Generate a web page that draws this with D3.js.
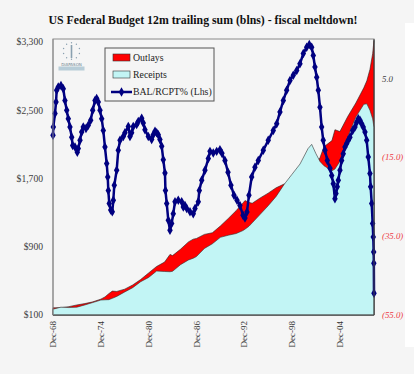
<!DOCTYPE html>
<html><head><meta charset="utf-8">
<script src="https://cdn.jsdelivr.net/npm/d3@7"></script>
<style>
html,body{margin:0;padding:0;background:#f5f5f5;}
svg{display:block;font-family:"Liberation Serif","Times New Roman",serif;}
</style></head>
<body>
<svg id="c" width="414" height="374"></svg>
<script>
// ---- data ----
const title = "US Federal Budget 12m trailing sum (blns) - fiscal meltdown!";
const seriesNames = ["Outlays", "Receipts", "BAL/RCPT% (Lhs)"];
const xTickDates = [1968.92, 1974.92, 1980.92, 1986.92, 1992.92, 1998.92, 2004.92];
const xTickLabels = ["Dec-68", "Dec-74", "Dec-80", "Dec-86", "Dec-92", "Dec-98", "Dec-04"];
const leftTicks = [100, 900, 1700, 2500, 3300];
const rightTicks = [5, -15, -35, -55];

const areaDates = [1968.92,1969.92,1970.92,1971.92,1972.92,1973.92,1974.92,1975.44,1975.92,1976.36,
  1976.92,1977.92,1978.92,1979.92,1980.92,1981.92,1982.92,1983.6,1983.92,1984.92,
  1985.92,1986.52,1986.92,1987.92,1988.92,1989.92,1990.92,1991.92,1992.76,1993.01,
  1993.51,1993.92,1994.92,1995.92,1996.92,1997.92,1998.92,1999.92,2000.92,2001.38,
  2001.92,2002.42,2002.92,2003.92,2004.3,2004.92,2005.92,2006.92,2007.92,2008.3,
  2008.69,2009.03,2009.2];
const receipts = [168,192,187,192,218,246,275,278,280,295,
  318,370,420,490,540,615,610,607,612,690,
  745,765,785,880,935,1010,1035,1055,1090,1105,
  1140,1180,1280,1380,1490,1630,1750,1870,2050,2100,
  1990,1900,1850,1790,1810,1900,2190,2420,2570,2575,
  2500,2400,2300];
const outlays = [184,186,198,218,234,254,286,312,350,380,
  376,403,452,516,593,669,720,810,796,871,
  957,989,997,1045,1064,1143,1232,1325,1414,1441,
  1420,1410,1472,1528,1591,1635,1652,1707,1775,1829,
  1861,1944,2072,2144,2272,2250,2429,2585,2763,2845,
  2978,3163,3320];

const lineDates = [1968.92,1968.96,1969.17,1969.30,1969.38,1969.58,1969.92,1970.21,1970.42,1970.64,
  1970.84,1971.05,1971.27,1971.39,1971.68,1971.97,1972.09,1972.31,1972.52,1972.72,
  1973.06,1973.35,1973.65,1973.90,1974.19,1974.40,1974.60,1974.82,1975.03,1975.23,
  1975.44,1975.66,1975.79,1975.86,1975.98,1976.16,1976.36,1976.49,1976.61,1976.91,
  1977.11,1977.33,1977.74,1977.95,1978.37,1978.58,1978.79,1978.99,1979.42,1979.62,
  1980.05,1980.25,1980.46,1980.88,1981.30,1981.50,1981.72,1981.93,1982.13,1982.34,
  1982.56,1982.76,1982.97,1983.03,1983.19,1983.39,1983.60,1983.81,1984.01,1984.23,
  1984.64,1985.07,1985.27,1985.48,1985.70,1986.11,1986.52,1986.74,1987.15,1987.28,
  1987.58,1987.99,1988.41,1988.62,1989.03,1989.46,1989.87,1990.12,1990.50,1990.88,
  1991.25,1991.63,1992.01,1992.38,1992.76,1993.01,1993.26,1993.51,1993.85,1994.26,
  1994.68,1995.31,1995.93,1996.56,1996.99,1997.40,1997.82,1998.24,1998.66,1999.07,
  1999.50,1999.91,2000.33,2000.75,2001.08,2001.38,2001.58,2001.79,2002.01,2002.21,
  2002.42,2002.63,2002.83,2003.05,2003.34,2003.68,2003.89,2004.09,2004.30,2004.43,
  2004.59,2004.72,2004.93,2005.14,2005.34,2005.56,2005.77,2005.97,2006.18,2006.52,
  2006.81,2007.03,2007.23,2007.44,2007.65,2007.85,2008.07,2008.28,2008.48,2008.69,
  2008.78,2008.91,2009.03,2009.11,2009.16,2009.18,2009.20];
const balRcpt = [-9.4,-7.3,-3.9,-1.0,2.0,2.8,3.2,2.4,-0.6,-3.1,
  -5.2,-7.3,-9.9,-12.0,-12.4,-13.7,-12.8,-10.7,-8.6,-7.3,
  -7.7,-6.9,-5.6,-3.1,-0.6,-0.1,-1.0,-3.1,-5.2,-8.2,
  -12.4,-16.6,-20.0,-23.4,-26.7,-28.4,-28.8,-25.9,-22.1,-18.3,
  -13.2,-10.7,-9.7,-8.8,-7.2,-9.7,-8.8,-7.2,-6.7,-5.9,
  -5.1,-6.3,-8.0,-9.7,-10.5,-9.3,-8.4,-8.8,-9.3,-10.5,
  -12.2,-15.6,-19.0,-23.4,-26.7,-31.0,-33.5,-31.8,-29.3,-26.3,
  -25.9,-26.3,-27.6,-27.2,-28.0,-28.8,-29.3,-28.0,-26.3,-23.4,
  -20.8,-18.3,-15.3,-13.5,-13.9,-13.5,-13.1,-14.0,-15.8,-18.8,
  -22.1,-24.6,-25.9,-27.2,-29.7,-30.4,-28.9,-24.6,-20.0,-17.5,
  -15.8,-13.2,-10.7,-8.2,-6.5,-3.5,-0.6,2.0,4.5,5.8,
  7.0,8.7,11.3,12.9,13.6,12.9,10.8,7.9,5.3,2.0,
  -2.3,-7.3,-10.7,-13.2,-15.8,-17.8,-19.6,-21.7,-25.5,-24.2,
  -22.5,-20.8,-18.3,-15.8,-14.1,-12.4,-11.5,-10.7,-9.9,-8.2,
  -7.3,-6.1,-5.2,-5.6,-6.5,-7.3,-8.6,-10.7,-14.9,-19.1,
  -22.5,-26.7,-31.8,-35.2,-39.0,-41.9,-49.5];

// ---- layout ----
const svg = d3.select("#c");
const L = 53, R = 374, T = 39, B = 315;
const x = d3.scaleLinear().domain([1968.92, 2009.2]).range([L, R]);
const yL = d3.scaleLinear().domain([100, 3335]).range([B, T]);
const yR = d3.scaleLinear().domain([-55, 15]).range([B, T]);

svg.append("rect").attr("width",414).attr("height",374).attr("fill","#f5f5f5");
svg.append("rect").attr("x",405).attr("y",23).attr("width",9).attr("height",324).attr("fill","#ffffff");

// title
svg.append("text").attr("x",203).attr("y",24).attr("text-anchor","middle")
  .attr("font-weight","bold").attr("font-size","11.8px").attr("fill","#111").text(title);

// plot background
svg.append("rect").attr("x",L).attr("y",T).attr("width",R-L).attr("height",B-T)
  .attr("fill","#f5f5f5").attr("stroke","#8c8c8c").attr("stroke-width",1);

const areaData = areaDates.map((d,i)=>({d, r:receipts[i], o:outlays[i]}));
const areaO = d3.area().x(p=>x(p.d)).y0(yL(100)).y1(p=>yL(p.o));
const areaR = d3.area().x(p=>x(p.d)).y0(yL(100)).y1(p=>yL(p.r));
svg.append("path").datum(areaData).attr("d",areaO).attr("fill","#ff0000")
  .attr("stroke","#222").attr("stroke-width",0.6);
svg.append("path").datum(areaData).attr("d",areaR).attr("fill","#c2f5f5")
  .attr("stroke","#333").attr("stroke-width",0.6);

// line
const lineData = lineDates.map((d,i)=>({d, v:balRcpt[i]}));
svg.append("path").datum(lineData)
  .attr("d", d3.line().x(p=>x(p.d)).y(p=>yR(p.v)))
  .attr("fill","none").attr("stroke","#000080").attr("stroke-width",2.5);
const diamond = d3.symbol().type(d3.symbolDiamond).size(26);
svg.append("g").selectAll("path").data(lineData).join("path")
  .attr("transform",p=>`translate(${x(p.d)},${yR(p.v)})`)
  .attr("d",diamond).attr("fill","#000080");

// axes lines
svg.append("line").attr("x1",L).attr("x2",R).attr("y1",B).attr("y2",B).attr("stroke","#555");
svg.append("line").attr("x1",L).attr("x2",L).attr("y1",T).attr("y2",B).attr("stroke","#8c8c8c");
svg.append("line").attr("x1",R).attr("x2",R).attr("y1",T).attr("y2",B).attr("stroke","#444");

// left axis labels
svg.append("g").selectAll("text").data(leftTicks).join("text")
  .attr("x",43).attr("y",v=>yL(v)).attr("dy","0.35em").attr("text-anchor","end")
  .attr("font-size","9.6px").attr("fill","#404040")
  .text(v=>"$"+d3.format(",")(v));

// right axis labels
const fmtR = v => v < 0 ? "(" + Math.abs(v).toFixed(1) + ")" : v.toFixed(1);
svg.append("g").selectAll("text").data(rightTicks).join("text")
  .attr("x",382).attr("y",v=>yR(v)).attr("dy","0.35em")
  .attr("font-size","8.8px").attr("font-style","italic")
  .attr("fill",v=>v<0?"#ee3a44":"#404040")
  .text(fmtR);

// x labels
svg.append("g").selectAll("text").data(xTickDates).join("text")
  .attr("transform",d=>`translate(${x(d)},321) rotate(-90)`)
  .attr("dy","0.35em").attr("text-anchor","end")
  .attr("font-size","9px").attr("fill","#333")
  .text((d,i)=>xTickLabels[i]);

// logo
const lg = svg.append("g").attr("transform","translate(71.5,51)");
d3.range(10).forEach(i=>{
  const a = i/10*2*Math.PI;
  lg.append("circle").attr("cx",8.3*Math.sin(a)).attr("cy",-8.3*Math.cos(a)).attr("r",0.7).attr("fill","#8aa0b0");
});
lg.append("line").attr("x1",0).attr("x2",0).attr("y1",-6).attr("y2",7).attr("stroke","#8aa0b0").attr("stroke-width",1.6);
lg.append("text").attr("x",0).attr("y",14.5).attr("text-anchor","middle").attr("font-size","4px")
  .attr("fill","#6a8090").attr("font-family","DejaVu Sans").text("DIAPASON");
lg.append("rect").attr("x",-13).attr("y",15.5).attr("width",26).attr("height",4).attr("fill","#b8cdd8");

// legend
const lgd = svg.append("g");
lgd.append("rect").attr("x",105).attr("y",48).attr("width",109).attr("height",53)
  .attr("fill","#f5f5f5").attr("stroke","#555").attr("stroke-width",1);
lgd.append("rect").attr("x",113).attr("y",54).attr("width",17).attr("height",7)
  .attr("fill","#ff0000").attr("stroke","#333").attr("stroke-width",0.6);
lgd.append("rect").attr("x",113).attr("y",71).attr("width",17).attr("height",7)
  .attr("fill","#c2f5f5").attr("stroke","#333").attr("stroke-width",0.6);
lgd.append("line").attr("x1",111).attr("x2",132).attr("y1",92).attr("y2",92)
  .attr("stroke","#000080").attr("stroke-width",2.5);
lgd.append("path").attr("transform","translate(121.5,92)").attr("d",diamond).attr("fill","#000080");
[58,75,92].forEach((yy,i)=>{
  lgd.append("text").attr("x",133).attr("y",yy).attr("dy","0.35em")
    .attr("font-size","9.8px").attr("fill","#222").text(seriesNames[i]);
});
</script>
</body></html>
